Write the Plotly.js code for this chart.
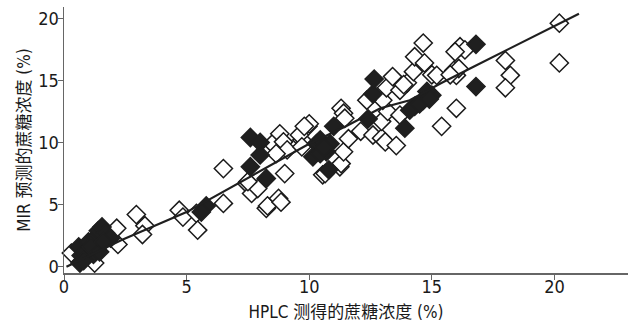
<!DOCTYPE html>
<html>
<head>
<meta charset="utf-8">
<script src="https://cdn.plot.ly/plotly-3.0.1.min.js"></script>
<style>html,body{margin:0;padding:0;background:#fff;}#chart{width:629px;height:325px;}</style>
</head>
<body>
<div id="chart"></div>
<script>
// Open diamonds (HPLC, MIR)
const openX = [0.3,1.25,2.2,2.15,2.95,3.3,3.2,
  4.7,4.85,5.4,5.45,6.5,6.5,
  7.45,7.65,7.9,7.5,8.25,8.3,8.75,8.85,9.0,8.5,8.8,8.95,9.1,8.65,9.95,9.7,9.6,
  10.0,9.8,9.7,10.55,10.65,11.25,11.3,11.4,11.6,11.3,11.4,11.45,
  12.1,12.6,12.95,13.1,13.55,12.95,13.2,13.7,13.0,12.35,13.15,13.7,14.0,13.4,14.25,13.85,
  14.65,14.3,14.7,15.0,15.2,16.15,16.35,15.95,15.9,16.0,16.1,15.75,16.0,15.4,
  18.0,18.2,18.0,20.2,20.2];
const openY = [1.1,0.3,1.8,3.1,4.2,3.3,2.6,
  4.55,4.0,4.3,2.95,5.1,7.9,
  6.7,5.9,6.3,6.85,4.7,4.9,5.5,5.2,7.5,9.9,10.7,10.05,9.4,9.1,11.3,10.2,10.6,
  11.5,11.3,9.65,7.4,7.5,8.05,8.3,9.25,10.3,12.75,12.35,11.95,
  10.9,10.6,10.35,10.05,9.75,11.7,12.5,12.2,13.4,13.4,14.4,14.2,14.8,15.3,15.7,14.65,
  18.0,16.9,16.4,15.45,15.4,17.7,17.45,17.3,15.8,15.4,15.95,15.45,12.75,11.3,
  16.6,15.4,14.4,19.6,16.4];

// Filled diamonds (HPLC, MIR)
const fillX = [0.65,0.7,0.6,0.9,1.0,1.2,1.3,1.4,1.55,1.1,1.7,1.9,1.45,0.8,1.6,
  5.8,5.6,
  7.6,8.0,8.0,7.6,8.25,
  10.3,10.45,10.7,10.15,10.85,10.45,11.0,10.8,10.6,
  12.4,12.6,12.65,
  15.0,14.65,14.3,14.1,14.8,14.5,13.9,14.9,
  16.8,16.8];
const fillY = [0.3,0.9,1.6,1.3,2.0,1.0,2.4,2.9,3.2,1.6,2.7,2.3,1.2,0.5,2.0,
  4.9,4.4,
  10.4,10.0,9.0,8.05,7.1,
  9.9,10.2,9.25,8.85,9.9,9.1,11.3,7.8,9.6,
  11.9,13.9,15.1,
  13.8,13.4,12.9,12.6,14.1,13.1,11.15,13.5,
  17.9,14.5];

// Fitted line
const lineX = [0.1,2.35,5.0,7.6,10.0,11.5,12.9,14.1,15.35,16.7,18.05,21.0];
const lineY = [0.0,2.15,4.4,7.25,9.9,11.3,12.75,13.4,14.75,16.1,17.45,20.35];

const xTicks = [0,5,10,15,20];
const yTicks = [0,5,10,15,20];
const xTitle = 'HPLC 测得的蔗糖浓度 (%)';
const yTitle = 'MIR 预测的蔗糖浓度 (%)';

const FONT = '"Liberation Sans Narrow", "DejaVu Sans Condensed", "Noto Sans CJK SC", sans-serif';

const traces = [
  {x: openX, y: openY, type: 'scatter', mode: 'markers',
   marker: {symbol: 'diamond', size: 14, color: '#ffffff', line: {color: '#1a1a1a', width: 1.5}},
   hoverinfo: 'skip', cliponaxis: false},
  {x: fillX, y: fillY, type: 'scatter', mode: 'markers',
   marker: {symbol: 'diamond', size: 14, color: '#1f1f1f', line: {color: '#1f1f1f', width: 1.5}},
   hoverinfo: 'skip', cliponaxis: false},
  {x: lineX, y: lineY, type: 'scatter', mode: 'lines',
   line: {color: '#1f1f1f', width: 2.2}, hoverinfo: 'skip'}
];

const layout = {
  width: 629, height: 325,
  margin: {l: 64, r: 1, t: 7, b: 52},
  paper_bgcolor: '#ffffff', plot_bgcolor: '#ffffff',
  showlegend: false,
  font: {family: FONT, color: '#1a1a1a'},
  xaxis: {
    range: [0, 23.0], tickvals: xTicks, ticktext: xTicks.map(String),
    showgrid: false, zeroline: false, showline: true, linecolor: '#666', linewidth: 1.5,
    ticks: 'outside', ticklen: 5, tickcolor: '#666', tickwidth: 1, ticklabelstandoff: -8,
    tickfont: {size: 18, family: FONT, color: '#1a1a1a'},
    title: {text: xTitle, font: {size: 17, family: FONT, color: '#1a1a1a'}, standoff: 10}
  },
  yaxis: {
    range: [-0.5, 20.9], tickvals: yTicks, ticktext: yTicks.map(String),
    showgrid: false, zeroline: false, showline: true, linecolor: '#666', linewidth: 1.5,
    ticks: 'outside', ticklen: 5, tickcolor: '#666', tickwidth: 1, ticklabelstandoff: -5,
    tickfont: {size: 18, family: FONT, color: '#1a1a1a'},
    title: {text: yTitle, font: {size: 17, family: FONT, color: '#1a1a1a'}, standoff: 3}
  }
};

Plotly.newPlot('chart', traces, layout, {staticPlot: true, displayModeBar: false});
</script>
</body>
</html>
